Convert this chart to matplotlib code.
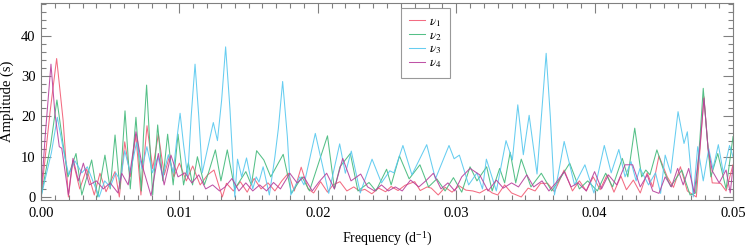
import numpy as np
import matplotlib
matplotlib.use("Agg")
import matplotlib.pyplot as plt
from matplotlib.ticker import MultipleLocator, FormatStrFormatter

plt.rcParams['font.family'] = ['Liberation Serif', 'DejaVu Serif']
plt.rcParams['mathtext.fontset'] = 'stix'

# frequencies in units of 1e-3 d^-1, amplitudes in s
f_nu1 = [0, 0.65, 1.13, 1.6, 1.98, 2.3, 2.8, 3.3, 3.85, 4.26, 4.7, 5.35, 5.66, 6.05, 6.45, 6.85, 7.22, 7.66, 8.07, 8.48,
         8.91, 9.27, 9.6, 10.0, 10.5, 10.96, 11.5, 12.04, 12.5, 13.1, 13.4, 13.9, 14.4, 14.9, 15.4, 15.9, 16.4,
         16.9, 17.4, 17.87, 18.3, 18.8, 19.3, 19.7, 20.2, 20.7, 21.1, 21.6, 22.1, 22.6, 23.0, 23.4, 23.9, 24.4,
         24.9, 25.3, 25.8, 26.3, 27.0, 27.4, 27.9, 28.2, 28.7, 29.2, 29.7, 30.2, 30.7, 31.2, 31.7, 32.2, 32.6,
         33.0, 33.5, 34.0, 34.7, 35.2, 35.7, 36.1, 36.6, 37.1, 37.8, 38.4, 38.9, 39.4, 39.9, 40.4, 40.9, 41.4,
         41.9, 42.3, 42.8, 43.3, 43.8, 44.2, 44.65, 45.25, 45.7, 46.2, 46.7, 47.35, 47.62, 47.9, 48.2, 48.5, 49.1,
         49.5, 50.0]
a_nu1 = [0, 21, 34.4, 19, 0, 9.0, 2, 7, 0.5, 5.9, 1.3, 6.3, 0, 13.7, 5, 15.5, 0.5, 17.7, 7, 15.6,
         5.5, 10, 5, 8.4, 4, 7.7, 3, 5.5, 6.7, 0, 3.4, 1.5, 3.8, 1.2, 4.6, 2, 3.5,
         1.5, 4, 5.9, 1.5, 7.4, 2, 1, 3.8, 1.2, 3, 3.8, 1.5, 2.5, 1.5, 1.9, 0.8, 2.2,
         1.3, 2.6, 1.6, 2.9, 3.8, 1.6, 2.5, 2.2, 0.5, 2.4, 1.2, 2.8, 1.7, 1.5, 1.0, 2.0, 1.0,
         0.5, 3, 1, 0, 2.2, 1.5, 3.4, 3.4, 1.3, 6.7, 1.5, 4, 1.5, 5, 1.8, 5.5, 1.2,
         5.2, 1.8, 4.2, 1.0, 6, 2.5, 10.2, 5, 2.4, 7.5, 1.5, 0, 12, 24.9, 12, 3.5, 3.4,
         1.5, 8]

f_nu2 = [0, 0.7, 1.15, 1.6, 1.95, 2.53, 2.95, 3.66, 4.1, 4.62, 5.0, 5.35, 5.7, 6.07, 6.45, 6.86, 7.25, 7.4, 7.63,
         7.85, 8.07, 8.43, 8.8, 9.15, 9.55, 9.9, 10.3, 10.65, 10.95, 11.3, 11.8, 12.1, 12.6, 13.0, 13.46, 14.0,
         14.8, 15.2, 15.58, 16.1, 16.6, 17.5, 18.1, 18.86, 19.4, 20.7, 21.2, 21.6, 22.35, 22.9, 23.7, 24.2,
         24.97, 25.3, 25.9, 26.6, 27.38, 28.0, 28.6, 29.2, 29.8, 30.4, 31.0, 31.5, 32.2, 32.6, 33.14, 33.5,
         33.9, 34.3, 34.7, 35.4, 36.15, 36.9, 37.4, 38.2, 38.9, 39.5, 40.2, 40.8, 41.3, 42.0, 42.4, 42.9,
         43.4, 43.7, 44.0, 44.5, 45.0, 45.5, 46.3, 46.9, 47.3, 47.6, 47.85, 48.15, 48.4, 48.9, 49.5, 50.0]
a_nu2 = [0, 13, 24.1, 13, 5, 10.8, 0.5, 9.2, 0, 10.4, 2, 15.4, 2, 21.4, 2, 19.8, 1.5, 15, 27.8,
         14, 0.5, 17.9, 4, 15.6, 3, 15.6, 3, 8.5, 3, 10, 3, 6, 11.7, 4, 11.7, 2,
         6.3, 3, 11.5, 9.2, 5, 10.6, 0.9, 5, 1.5, 15.2, 2, 7.5, 10.8, 1.5, 3.6, 1.5,
         6.9, 3, 10.2, 4.5, 8, 2.5, 4.5, 1.5, 4.8, 1.2, 7.5, 4, 7.5, 1.5, 7.1, 3.5,
         11.1, 3.5, 9.4, 2.5, 5.9, 1.5, 4, 8.4, 2, 4, 1.5, 5.9, 2.5, 9.6, 5, 17.1,
         5, 6.7, 5.5, 11.7, 6.5, 2.6, 6.7, 0.5, 1.0, 14, 27.0, 14, 5, 10.8, 2, 15]

f_nu3 = [0, 0.75, 1.18, 1.6, 2.0, 2.45, 2.95, 3.35, 3.8, 4.2, 4.6, 5.0, 5.4, 5.75, 6.05, 6.45, 6.9, 7.3, 7.65, 8.05,
         8.45, 8.8, 9.2, 9.55, 9.8, 10.05, 10.3, 10.6, 10.85, 11.13, 11.4, 11.65, 12.45, 12.75, 13.05, 13.34,
         13.65, 14.0, 14.2, 14.5, 14.85, 15.3, 15.55, 15.75, 16.05, 16.5, 16.9, 17.15, 17.46, 17.8, 18.05, 18.7,
         19.0, 19.82, 20.79, 21.58, 21.99, 22.42, 23.07, 23.92, 24.6, 25.2, 25.5, 26.15, 26.8, 27.87, 28.5,
         29.48, 29.85, 30.23, 30.9, 31.5, 31.9, 32.18, 32.9, 33.6, 34.06, 34.45, 34.85, 35.27, 35.84, 36.2,
         36.5, 36.8, 37.1, 37.8, 38.55, 39.3, 39.95, 40.7, 41.2, 41.75, 42.2, 42.63, 43.0, 43.28, 43.9, 44.4,
         44.77, 45.1, 45.5, 46.03, 46.46, 46.7, 47.13, 47.45, 47.85, 48.25, 48.55, 48.94, 49.3, 49.75, 50.0]
a_nu3 = [0, 11, 19.8, 12, 5.5, 9.0, 6.0, 7.5, 3.5, 0, 4, 2.5, 6, 4, 11.5, 6, 13.5, 7, 12.5, 6,
         10, 5, 10.5, 6, 14, 20.8, 13, 5, 20, 33.0, 20, 6, 18.5, 14, 24, 37.3,
         22, 0, 9.4, 5, 9.7, 2, 5, 3.7, 7.5, 0.5, 10, 17, 28.7, 15, 0.5, 5,
         3, 15.8, 0.9, 13.2, 5.9, 11.4, 1, 9.4, 3.5, 6.5, 6, 12.8, 5.5, 13.0, 4.5,
         12.8, 9.5, 10.4, 3, 6, 2, 9.4, 1.5, 14, 9.2, 22.9, 10.5, 20.3, 5.7, 22,
         35.7, 20, 0.5, 13.8, 3, 8, 1, 12.8, 6, 11.8, 5, 8.8, 4, 7.1, 3, 6,
         0.9, 10.4, 5.9, 21.2, 13.3, 16.2, 0, 12.5, 4, 12, 7, 13, 6, 12.8, 10]

f_nu4 = [0, 0.3, 0.72, 1.0, 1.32, 1.5, 1.98, 2.31, 2.7, 3.06, 3.5, 4.0, 4.5, 5.0, 5.56, 5.83, 6.3, 6.86, 7.3, 7.95,
         8.48, 8.9, 9.39, 9.9, 10.4, 10.9, 11.4, 11.9, 12.4, 12.9, 13.3, 13.8, 14.3, 14.8, 15.3, 15.8, 16.3,
         16.8, 17.3, 17.98, 18.5, 19.0, 19.6, 20.1, 20.64, 21.2, 21.8, 22.4, 23.1, 23.6, 24.1, 24.6, 25.1,
         25.6, 26.1, 26.7, 27.3, 27.8, 28.35, 28.9, 29.4, 29.9, 30.4, 31.0, 31.7, 32.3, 32.9, 33.4, 34.0,
         34.5, 35.1, 35.6, 36.2, 36.7, 37.2, 37.8, 38.3, 38.8, 39.4, 40.0, 40.5, 41.0, 41.6, 42.2, 42.75,
         43.3, 43.8, 44.2, 44.65, 45.1, 45.55, 46.0, 46.4, 46.8, 47.2, 47.6, 47.9, 48.2, 48.5, 49.0, 49.5,
         49.8, 50.0]
a_nu4 = [0, 15, 33.0, 21, 12.5, 12.1, 0.5, 9.6, 4, 8.4, 3, 4, 2, 3.5, 1, 5.9, 3, 16.2, 8, 0.3,
         10.8, 3, 10.4, 5, 6, 3.5, 5.5, 2, 3, 1.5, 2.5, 4.6, 1.5, 3.5, 1.5, 3, 1.5,
         3.6, 2, 5.9, 3.5, 5, 1.5, 3.8, 5.9, 2, 9.6, 4, 5.7, 2.5, 1.5, 3, 1.5,
         2.5, 1.5, 4.2, 2.5, 4, 5.9, 2, 3.5, 1.5, 5, 7.1, 5.5, 1.5, 4.2, 2.2, 3.5,
         2.5, 5.5, 2.5, 4, 1.5, 3.5, 6.3, 2.5, 3.5, 1.5, 6.3, 2, 5.5, 3, 8, 8,
         2.5, 5.5, 1.5, 0.9, 5, 2.5, 7.1, 3, 7.1, 1.0, 12, 24.5, 12, 6.5, 3.5, 6.7,
         1.0, 7.5]

series = [(f_nu1, a_nu1, r'$\nu_1$', '#f25c74'),
          (f_nu2, a_nu2, r'$\nu_2$', '#42b97a'),
          (f_nu3, a_nu3, r'$\nu_3$', '#56c8ef'),
          (f_nu4, a_nu4, r'$\nu_4$', '#b8409c')]

fig = plt.figure(figsize=(7.47, 2.49), dpi=100)
ax = fig.add_axes([41/747, 1-200/249, 692/747, 197/249])

for f, a, lab, col in series:
    ax.plot(np.array(f) * 1e-3, a, color=col, lw=0.75, label=lab, alpha=0.9,
            solid_joinstyle='round')

ax.set_xlim(0, 0.05)
ax.set_ylim(-0.75, 48.2)
ax.xaxis.set_major_locator(MultipleLocator(0.01))
ax.xaxis.set_minor_locator(MultipleLocator(0.001))
ax.xaxis.set_major_formatter(FormatStrFormatter('%.2f'))
ax.yaxis.set_major_locator(MultipleLocator(10))
ax.yaxis.set_minor_locator(MultipleLocator(2))
ax.tick_params(which='both', direction='in', top=True, right=True, colors='#808080',
               labelcolor='black', labelsize=10.5, width=0.8)
ax.tick_params(which='major', length=7)
ax.tick_params(which='minor', length=3.5)
ax.tick_params(axis='x', pad=5)
ax.tick_params(axis='y', pad=4)
for s in ax.spines.values():
    s.set_color('#808080')
    s.set_linewidth(0.8)

ax.set_xlabel(r'Frequency (d$^{\mathregular{-1}}$)', fontsize=10, labelpad=7)
ax.set_ylabel('Amplitude (s)', fontsize=10.5, labelpad=5)

leg = ax.legend(loc='upper left', bbox_to_anchor=(360/692, 0.975), fontsize=9.5, frameon=True,
                fancybox=False, edgecolor='#808080', handlelength=1.2, handletextpad=0.35,
                labelspacing=0.05, borderpad=0.6, borderaxespad=0)
leg.get_frame().set_linewidth(0.8)

fig.savefig('out.png', dpi=100)
